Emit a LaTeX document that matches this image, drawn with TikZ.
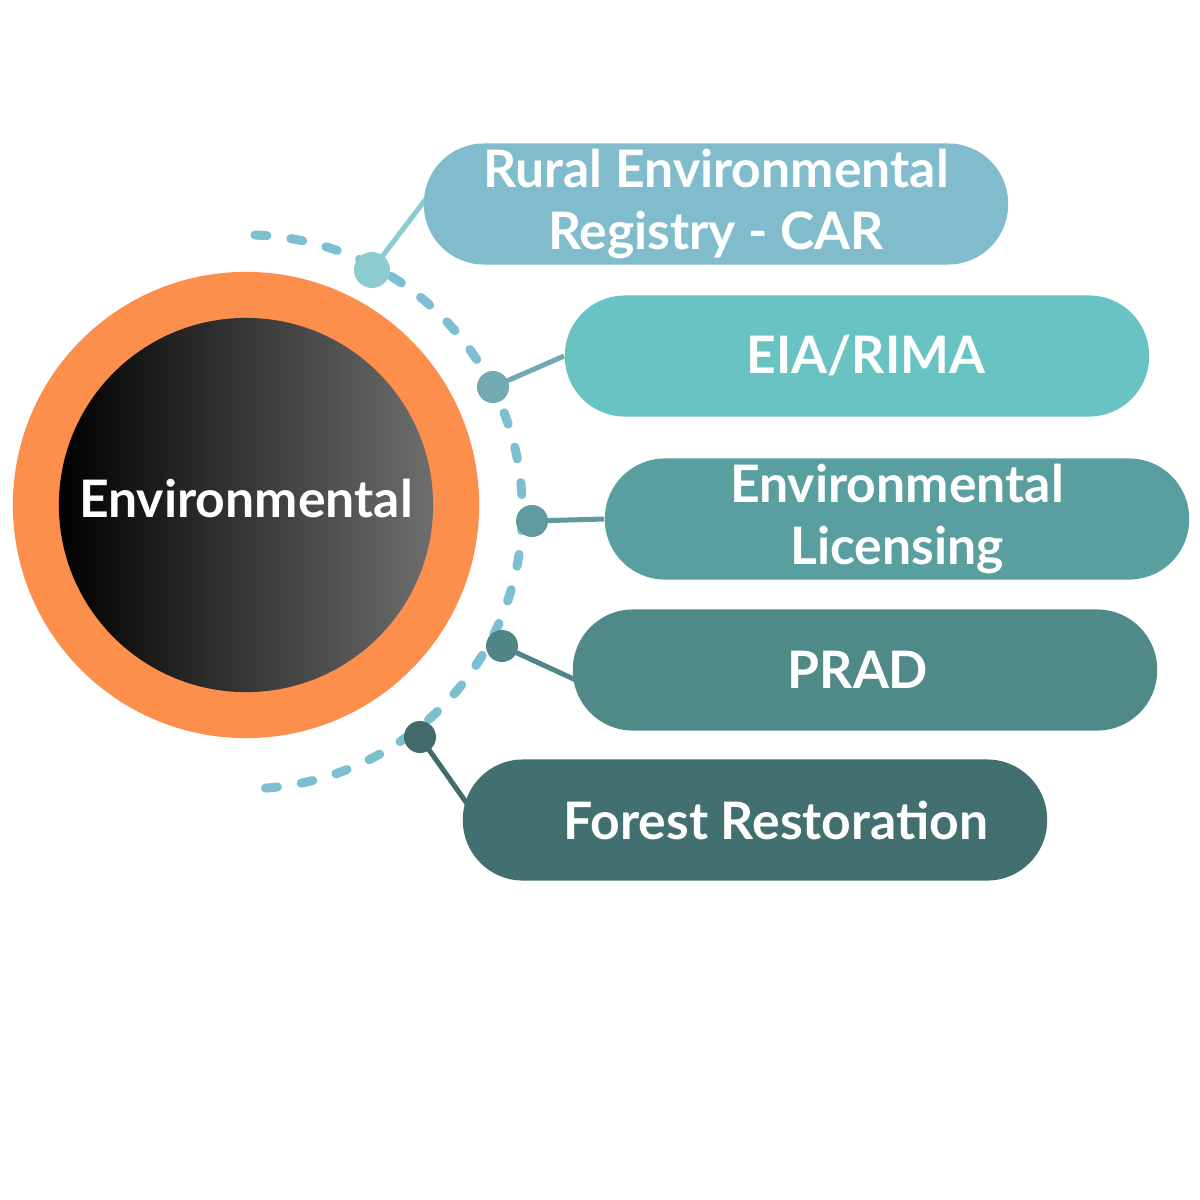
\documentclass[tikz,border=0pt]{standalone}
\usepackage{fontspec}
\setmainfont{Lato}
\usetikzlibrary{calc,backgrounds}
\definecolor{ringorange}{HTML}{FD8F4D}
\definecolor{hubgray}{HTML}{6E6E6E}
\definecolor{arcblue}{HTML}{7DBFD0}
\definecolor{carbox}{HTML}{80BCCB}
\definecolor{eiabox}{HTML}{6AC3C3}
\definecolor{licbox}{HTML}{5A9F9F}
\definecolor{pradbox}{HTML}{4F8988}
\definecolor{forestbox}{HTML}{426F6F}
\definecolor{cardot}{HTML}{8CCBD0}
\definecolor{eiadot}{HTML}{72AAB1}
\definecolor{licdot}{HTML}{5F9A9E}
\definecolor{praddot}{HTML}{508587}
\definecolor{forestdot}{HTML}{416A6B}
\tikzstyle{ring} = [circle, fill=ringorange, minimum size=4.66cm, inner sep=0pt]
\tikzstyle{hub} = [circle, left color=black, right color=hubgray, minimum size=3.74cm, inner sep=0pt, text=white, text depth=0.14cm, font=\fontsize{14.7}{17}\selectfont\bfseries]
\tikzstyle{pill} = [rectangle, rounded corners=0.6cm, minimum width=5.84cm, minimum height=1.21cm, inner sep=0pt, align=center, text=white, font=\fontsize{14.7}{17.6}\selectfont\bfseries]
\tikzstyle{dot} = [circle, inner sep=0pt, minimum size=0.32cm]
\tikzstyle{link} = [draw, line width=0.05cm]
\tikzstyle{arcline} = [draw=arcblue, line width=0.09cm, line cap=round, dash pattern=on 0.12cm off 0.24cm]

\begin{document}
\begin{tikzpicture}[x=0.01cm, y=-0.01cm]
        \useasboundingbox (0,0) rectangle (1200,1200);
        \node[ring] (ring) at (246,505) {};
        \node[hub] (hub) at (246,505) {Environmental};
        \node[pill, fill=carbox] (car) at (716,204) {Rural Environmental\\Registry - CAR};
        \node[pill, fill=eiabox] (eia) at (857,356) {\hspace*{0.18cm}EIA/RIMA};
        \node[pill, fill=licbox] (lic) at (897,519) {Environmental\\Licensing};
        \node[pill, fill=pradbox] (prad) at (865,670) {PRAD\hspace*{0.14cm}};
        \node[pill, fill=forestbox] (forest) at (755,820) {\hspace*{0.42cm}Forest Restoration};
        \node[dot, fill=cardot, minimum size=0.36cm] (d1) at (372,270) {};
        \node[dot, fill=eiadot] (d2) at (493,387) {};
        \node[dot, fill=licdot] (d3) at (532,521) {};
        \node[dot, fill=praddot] (d4) at (502,646) {};
        \node[dot, fill=forestdot] (d5) at (420,737) {};
        \begin{scope}[on background layer]
            \fill[white] (0,0) rectangle (1200,1200);
            \draw[arcline] (255,235) arc[start angle=-88, end angle=87, radius=277];
            \path[link, draw=cardot] (d1.center) -- ($(car.west)+(8,-12)$);
            \path[link, draw=eiadot] (d2.center) -- (eia.west);
            \path[link, draw=licdot] (d3.center) -- (lic.west);
            \path[link, draw=praddot] (d4.center) -- ($(prad.west)+(8,12)$);
            \path[link, draw=forestdot] (d5.center) -- ($(forest.west)+(8,-12)$);
        \end{scope}
    \end{tikzpicture}
\end{document}
